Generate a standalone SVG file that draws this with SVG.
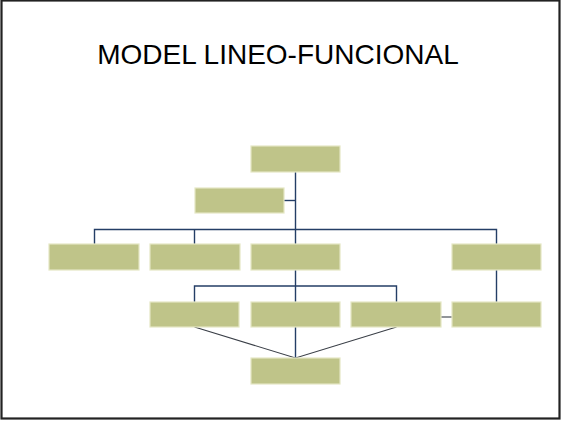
<svg xmlns="http://www.w3.org/2000/svg" width="561" height="422" viewBox="0 0 561 422">
<style>
.box{fill:#BFC489;stroke:#E4E7C4;stroke-width:1.2}
.ln{stroke:#243E66;stroke-width:1.4;fill:none}
.fan{stroke:#3A3F47;stroke-width:1.1;fill:none}
.title{font-family:"Liberation Sans",Arial,sans-serif;font-size:28px;fill:#000}
</style>
<rect x="0" y="0" width="561" height="422" fill="#fff"/>
<rect x="1.5" y="0.5" width="558" height="418" fill="none" stroke="#222" stroke-width="2.2"/>
<text class="title" x="278" y="63.5" text-anchor="middle">MODEL LINEO-FUNCIONAL</text>
<g id="connectors">
<path class="ln" d="M295.5,172 V302"/>
<path class="ln" d="M284,200.5 H295.5"/>
<path class="ln" d="M94.5,244 V229.5 H496.5 V244"/>
<path class="ln" d="M194.5,229.5 V244"/>
<path class="ln" d="M194.5,302 V286 H396.5 V302"/>
<path class="ln" d="M496.5,270 V302"/>
<path class="fan" d="M441,317 H452" stroke="#666"/>
<path class="fan" d="M194.5,327 L295.5,358 L396.5,327"/>
<path class="ln" d="M295.5,327 V358"/>
</g>
<g id="n1"><rect class="box" x="251" y="146" width="89" height="26"/></g>
<g id="n2"><rect class="box" x="195" y="188" width="89" height="25"/></g>
<g id="n3"><rect class="box" x="49" y="244" width="90" height="26"/></g>
<g id="n4"><rect class="box" x="150" y="244" width="90" height="26"/></g>
<g id="n5"><rect class="box" x="251" y="244" width="89" height="26"/></g>
<g id="n6"><rect class="box" x="452" y="244" width="89" height="26"/></g>
<g id="n7"><rect class="box" x="150" y="302" width="89" height="25"/></g>
<g id="n8"><rect class="box" x="251" y="302" width="89" height="25"/></g>
<g id="n9"><rect class="box" x="351" y="302" width="90" height="25"/></g>
<g id="n10"><rect class="box" x="452" y="302" width="89" height="25"/></g>
<g id="n11"><rect class="box" x="251" y="358" width="89" height="26"/></g>
</svg>
